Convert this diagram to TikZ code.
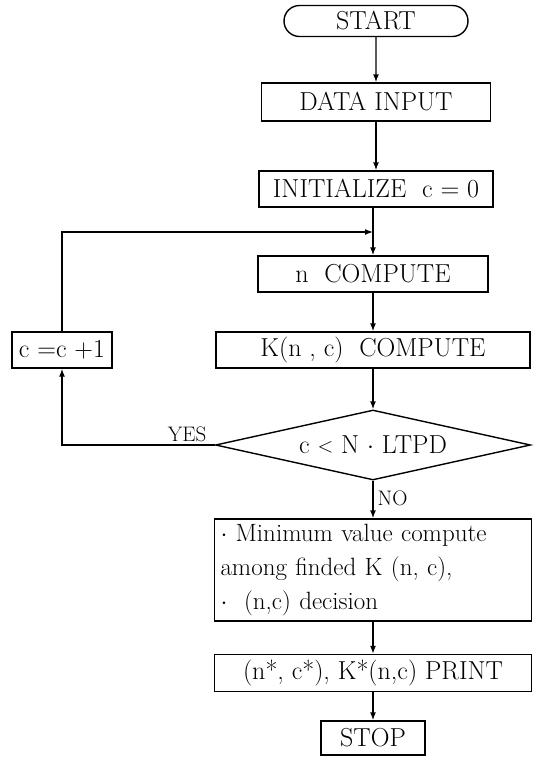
\documentclass[tikz,border=0pt]{standalone}
\usetikzlibrary{arrows.meta,shapes.geometric,shapes.misc}
\begin{document}
\begin{tikzpicture}[x=1pt,y=-1pt,
  font=\fontsize{26}{30}\selectfont,
  line width=1.4pt,
  box/.style={draw, minimum height=36pt, inner sep=0pt},
  lbl/.style={font=\fontsize{21}{24}\selectfont, inner sep=2pt},
  arr/.style={-{Latex[length=8pt,width=6pt]}}]
\useasboundingbox (0,0) rectangle (537,764);
\node[draw, rounded rectangle, minimum width=184pt, minimum height=31pt, inner sep=0pt] (start) at (376,21) {START};
\node[box, minimum width=229pt, minimum height=38pt] (data) at (376,102) {DATA INPUT};
\node[box, minimum width=234pt] (init) at (376,189) {INITIALIZE\ \ c = 0};
\node[box, minimum width=230pt] (ncomp) at (373,274) {n\ \ COMPUTE};
\node[box, minimum width=314pt] (kcomp) at (373,350) {K(n , c)\ \ COMPUTE};
\node[box, minimum width=100pt] (cc) at (62,350) {c =c +1};
\node[draw, diamond, aspect=4.5, minimum width=315pt, minimum height=70pt, inner sep=0pt] (dia) at (373,445) {c \raisebox{1pt}{\fontsize{20}{20}\selectfont$<$} N $\cdot$ LTPD};
\node[box, minimum width=317pt, minimum height=102pt, align=left, text width=305pt, inner xsep=6pt, font=\fontsize{25}{34}\selectfont] (mincomp) at (373,570) {$\cdot$ Minimum value compute\\ among finded K (n, c),\\ $\cdot$ \ (n,c) decision};
\node[box, minimum width=317pt, minimum height=37pt] (print) at (373,673) {(n*,\ c*), K*(n,c) PRINT};
\node[box, minimum width=104pt, minimum height=34pt] (stop) at (373,738) {STOP};
\coordinate (join) at (373,232);
\draw[arr] (start) -- (start |- data.north);
\draw[arr] (data) -- (data |- init.north);
\draw (init.south -| join) -- (join);
\draw[arr] (join) -- (ncomp);
\draw[arr] (ncomp) -- (kcomp);
\draw[arr] (kcomp) -- (dia);
\draw[arr] (dia) -- (mincomp);
\draw[arr] (mincomp) -- (print);
\draw[arr] (print) -- (stop);
\draw[arr] (dia.west) -- (dia.west -| cc.south) -- (cc.south);
\draw[arr] (cc.north) |- (join);
\node[lbl, anchor=south] (yes) at (187,445) {YES};
\node[lbl, anchor=west] (no) at (375,498) {NO};
\end{tikzpicture}
\end{document}
